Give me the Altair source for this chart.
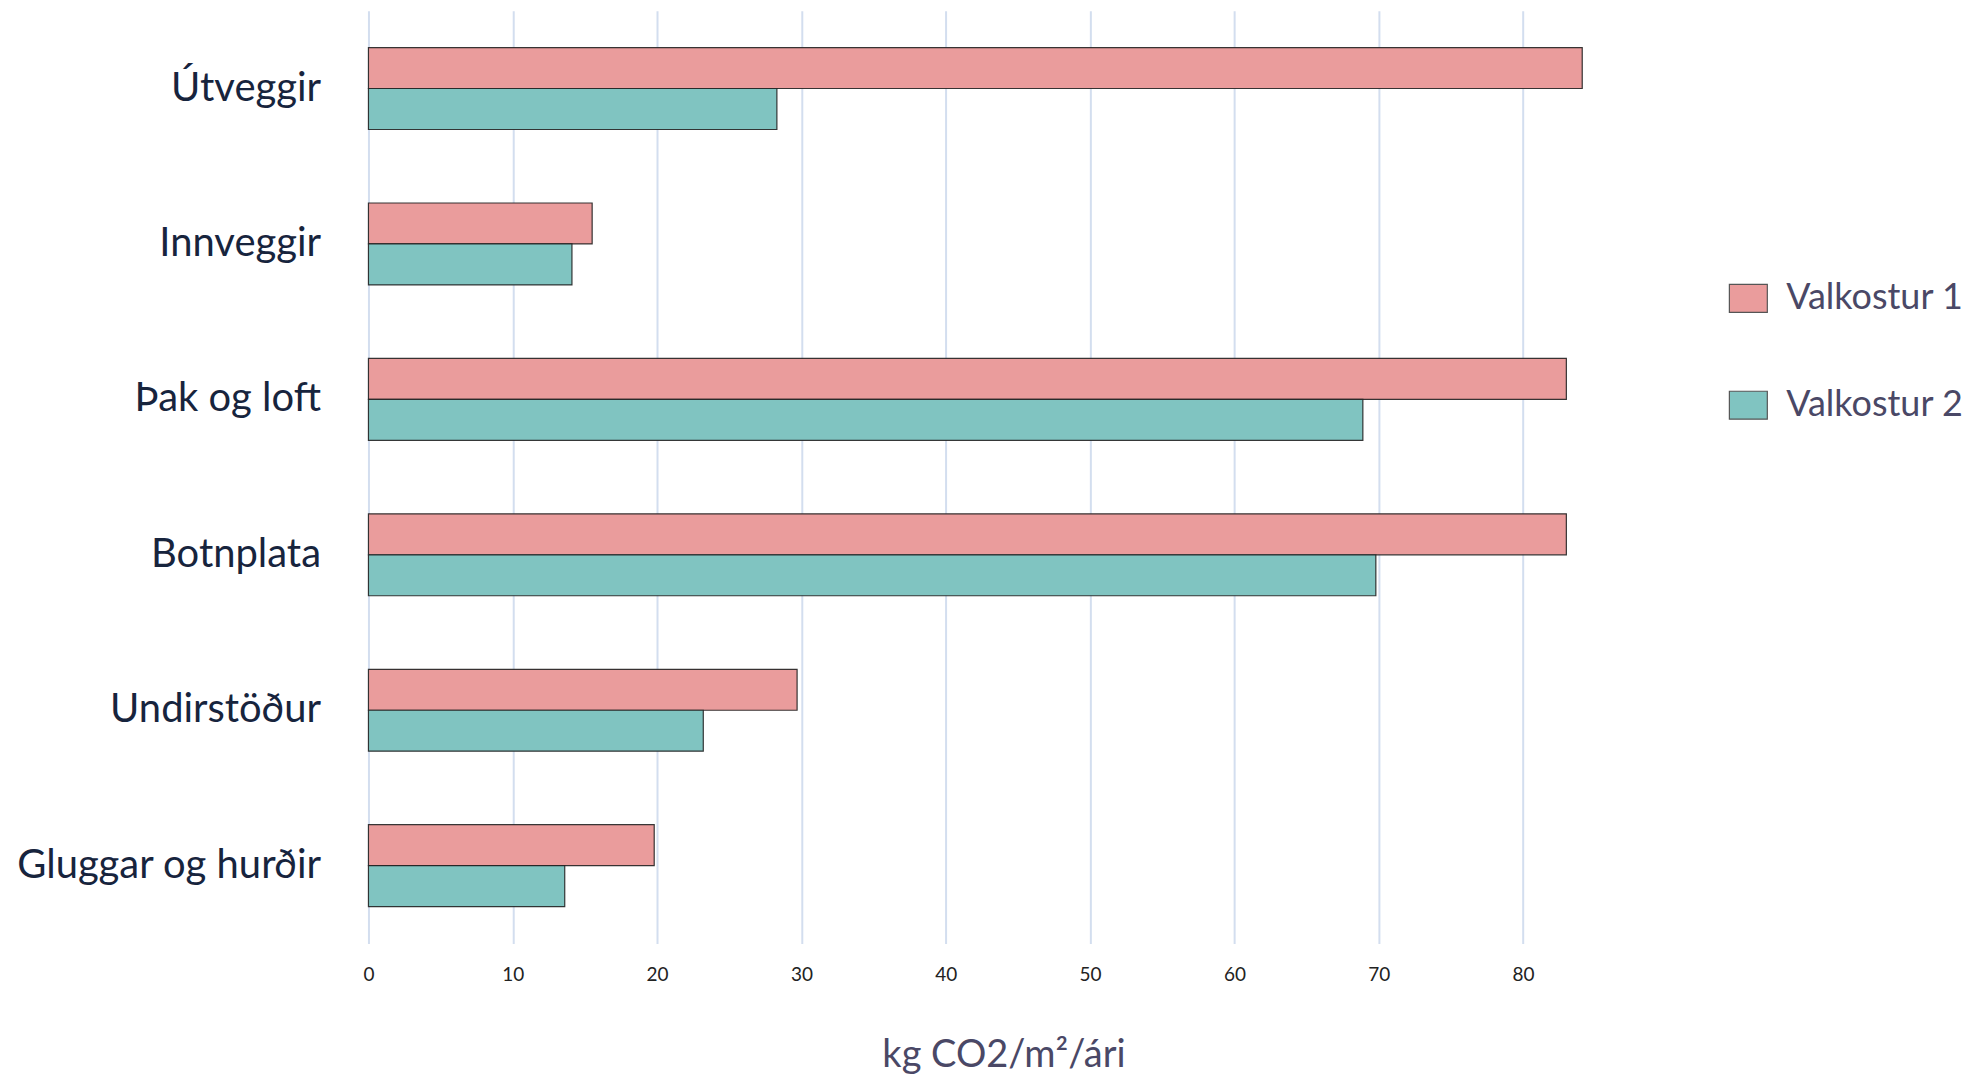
import altair as alt
import pandas as pd

categories = ["Útveggir", "Innveggir", "Þak og loft", "Botnplata", "Undirstöður", "Gluggar og hurðir"]
series = ["Valkostur 1", "Valkostur 2"]
valkostur_1 = [84.1, 15.5, 83.0, 83.0, 29.7, 19.8]
valkostur_2 = [28.3, 14.1, 68.9, 69.8, 23.2, 13.6]
x_ticks = [0, 10, 20, 30, 40, 50, 60, 70, 80]

rows = []
for c, a, b in zip(categories, valkostur_1, valkostur_2):
    rows.append({"cat": c, "series": series[0], "value": a})
    rows.append({"cat": c, "series": series[1], "value": b})
df = pd.DataFrame(rows)

FONT = "Lato"

chart = (
    alt.Chart(df)
    .mark_bar(stroke="#222222", strokeWidth=1.2, strokeOpacity=0.9)
    .encode(
        x=alt.X(
            "value:Q",
            scale=alt.Scale(domain=[0, 88], nice=False, zero=True),
            axis=alt.Axis(
                values=x_ticks,
                title="kg CO2/m²/ári",
                titleFont=FONT,
                titleFontSize=38,
                titleFontWeight="normal",
                titleColor="#4a4866",
                titlePadding=52,
                labelFont=FONT,
                labelFontSize=19,
                labelColor="#222222",
                labelPadding=22,
                labelFlush=False,
                ticks=False,
                domain=False,
                grid=True,
                gridColor="#D3DEEF",
                gridWidth=2,
            ),
        ),
        y=alt.Y(
            "cat:N",
            sort=categories,
            scale=alt.Scale(paddingInner=0.473, paddingOuter=0.2365),
            axis=alt.Axis(
                title=None,
                labelFont=FONT,
                labelFontSize=40,
                labelColor="#17243d",
                labelPadding=48,
                ticks=False,
                domain=False,
                grid=False,
                labelLimit=600,
            ),
        ),
        yOffset=alt.YOffset("series:N", sort=series, scale=alt.Scale(paddingInner=0, paddingOuter=0)),
        color=alt.Color(
            "series:N",
            sort=series,
            scale=alt.Scale(domain=series, range=["#EA9C9C", "#80C4C1"]),
            legend=alt.Legend(
                title=None,
                orient="none",
                legendX=1362,
                legendY=268,
                symbolType="M-1,-0.737L1,-0.737L1,0.737L-1,0.737Z",
                symbolSize=1444,
                symbolStrokeColor="#555555",
                symbolStrokeWidth=1.2,
                symbolOpacity=1,
                labelFont=FONT,
                labelFontSize=36,
                labelColor="#4a4866",
                labelOffset=18,
                rowPadding=69,
                labelLimit=400,
            ),
        ),
    )
    .properties(
        width=1272,
        height=934,
        background="white",
        autosize=alt.AutoSizeParams(type="none"),
        padding={"left": 361, "top": 2, "right": 340, "bottom": 134},
    )
    .configure_view(strokeWidth=0, stroke=None)
)

chart.save("out.html", embed_options={"renderer": "svg", "actions": False})
